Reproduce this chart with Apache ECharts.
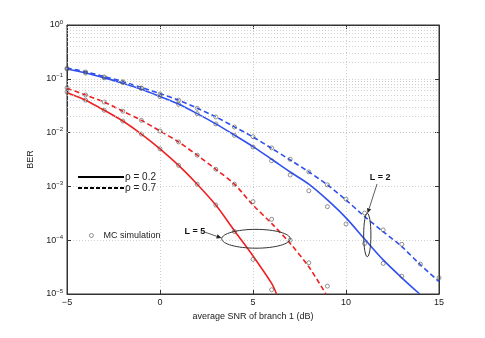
<!DOCTYPE html>
<html>
<head>
  <meta charset="utf-8">
  <title>BER</title>
  <script src="https://cdn.jsdelivr.net/npm/echarts@6/dist/echarts.min.js"></script>
</head>
<body style="margin:0">
<div id="main" style="height: 338px;width: 485px"></div>
<script type="text/javascript">
  // analytic curves (x in dB, BER)
  var blueSolidX = [-5, -4, -3, -2, -1, 0, 1, 2, 3, 4, 5, 6, 7, 8, 9, 10, 11, 12, 13, 13.96];
  var blueSolidY = [0.152, 0.128, 0.104, 0.083, 0.064, 0.047, 0.034, 0.0225, 0.0145, 0.0090, 0.0055, 0.0032, 0.00185, 1.1e-3, 5.6e-4, 2.6e-4, 1.05e-4, 4.3e-5, 2.0e-5, 1e-5];
  var blueDashX = [-5, -4, -3, -2, -1, 0, 1, 2, 3, 4, 5, 6, 7, 8, 9, 10, 11, 12, 13, 14, 15];
  var blueDashY = [0.158, 0.135, 0.110, 0.089, 0.069, 0.053, 0.040, 0.0285, 0.0196, 0.0128, 0.0083, 0.0051, 0.0031, 0.00186, 1.07e-3, 5.6e-4, 2.75e-4, 1.44e-4, 7.6e-5, 3.5e-5, 1.7e-5];
  var redSolidX = [-5, -4, -3, -2, -1, 0, 1, 2, 3, 4, 5, 6, 6.27];
  var redSolidY = [0.055, 0.040, 0.026, 0.0164, 0.0094, 0.0050, 0.00246, 1.1e-3, 4.5e-4, 1.5e-4, 5.1e-5, 1.58e-5, 1e-5];
  var redDashX = [-5, -4, -3, -2, -1, 0, 1, 2, 3, 4, 5, 6, 7, 8, 8.92];
  var redDashY = [0.0666, 0.050, 0.037, 0.025, 0.0169, 0.0107, 0.0067, 0.0038, 0.00208, 1.1e-3, 4.5e-4, 2.05e-4, 8.7e-5, 3.2e-5, 1e-5];

  // MC simulation points
  var blueSolidSimX = [-5, -4, -3, -2, -1, 0, 1, 2, 3, 4, 5, 6, 7, 8, 9, 10, 11, 12, 13];
  var blueSolidSimY = [0.152, 0.128, 0.104, 0.085, 0.066, 0.0465, 0.0336, 0.0225, 0.0145, 0.0089, 0.0054, 0.0030, 0.00163, 8.3e-4, 4.2e-4, 2.0e-4, 8.7e-5, 3.7e-5, 2.15e-5];
  var blueDashSimX = [-5, -4, -3, -2, -1, 0, 1, 2, 3, 4, 5, 6, 7, 8, 9, 10, 11, 12, 13, 14, 15];
  var blueDashSimY = [0.157, 0.134, 0.108, 0.088, 0.0675, 0.052, 0.040, 0.0283, 0.0195, 0.0127, 0.0084, 0.0052, 0.0032, 0.00186, 1.07e-3, 5.8e-4, 3.2e-4, 1.55e-4, 8.4e-5, 3.6e-5, 2.0e-5];
  var redSolidSimX = [-5, -4, -3, -2, -1, 0, 1, 2, 3, 4, 5, 6];
  var redSolidSimY = [0.057, 0.040, 0.026, 0.0164, 0.0094, 0.0050, 0.00246, 1.1e-3, 4.5e-4, 1.45e-4, 4.4e-5, 1.2e-5];
  var redDashSimX = [-5, -4, -3, -2, -1, 0, 1, 2, 3, 4, 5, 6, 7, 8, 9];
  var redDashSimY = [0.068, 0.050, 0.037, 0.025, 0.0169, 0.0107, 0.0067, 0.0038, 0.00208, 1.1e-3, 5.2e-4, 2.45e-4, 1.0e-4, 3.8e-5, 1.4e-5];

  function pairs(xs, ys) {
    return xs.map(function (x, i) { return [x, ys[i]]; });
  }

  // minor log grid values 2..9 x 10^k
  var minorGrid = [];
  for (var k = -5; k < 0; k++) {
    for (var m = 2; m <= 9; m++) minorGrid.push({ yAxis: m * Math.pow(10, k) });
  }

  var blue = '#3050f0';
  var red = '#f02020';
  var font = 'Liberation Sans';
  var txt = '#222';
  var gridLine = { color: '#c4c4c4', type: [1, 2], width: 0.8 };

  function lineSeries(name, xs, ys, color, type) {
    return {
      type: 'line', name: name, data: pairs(xs, ys), smooth: 0.3,
      symbol: 'none', lineStyle: { color: color, width: 1.6, type: type },
      silent: true, z: 3
    };
  }
  function simSeries(xs, ys) {
    return {
      type: 'scatter', name: 'sim', data: pairs(xs, ys), symbol: 'circle', symbolSize: 4,
      itemStyle: { color: 'rgba(255,255,255,0)', borderColor: '#555', borderWidth: 0.8 },
      silent: true, z: 4
    };
  }

  // annotations in data coordinates
  var ell5 = { x1: 3.32, x2: 7.0, y1: 1.59e-4, y2: 7.1e-5 };
  var ell2 = { x1: 10.95, x2: 11.34, y1: 3.16e-4, y2: 4.93e-5 };
  var arrow5 = [[2.42, 1.41e-4], [3.31, 1.1e-4]];
  var arrow2 = [[11.67, 1.11e-3], [11.16, 3.16e-4]];
  var label5 = [1.88, 1.48e-4];
  var label2 = [11.83, 1.44e-3];

  function ellipseShape(api, e) {
    var a = api.coord([e.x1, e.y1]), b = api.coord([e.x2, e.y2]);
    return {
      type: 'ellipse',
      shape: { cx: (a[0] + b[0]) / 2, cy: (a[1] + b[1]) / 2, rx: Math.abs(b[0] - a[0]) / 2, ry: Math.abs(b[1] - a[1]) / 2 },
      style: { fill: 'none', stroke: '#333', lineWidth: 1 }
    };
  }
  function arrowShapes(api, ar) {
    var p = api.coord(ar[0]), q = api.coord(ar[1]);
    var dx = q[0] - p[0], dy = q[1] - p[1], len = Math.sqrt(dx * dx + dy * dy);
    var ux = dx / len, uy = dy / len, h = 5, w = 2.2;
    var bx = q[0] - ux * h, by = q[1] - uy * h;
    return [
      { type: 'line', shape: { x1: p[0], y1: p[1], x2: bx, y2: by }, style: { stroke: '#333', lineWidth: 0.8 } },
      { type: 'polygon', shape: { points: [[q[0], q[1]], [bx - uy * w, by + ux * w], [bx + uy * w, by - ux * w]] }, style: { fill: '#222' } }
    ];
  }
  function labelShape(api, pos, s) {
    var c = api.coord(pos);
    return {
      type: 'text', x: c[0], y: c[1],
      style: { text: s, font: 'bold 9px ' + font, fill: '#111', align: 'center', verticalAlign: 'middle' }
    };
  }

  var myChart = echarts.init(document.getElementById('main'));
  var option = {
    animation: false,
    backgroundColor: '#fff',
    textStyle: { fontFamily: font },
    grid: { left: 67, right: 46, top: 25, bottom: 44, show: true, borderColor: '#333', borderWidth: 1 },
    legend: [
      {
        data: ['ρ = 0.2', 'ρ = 0.7'], orient: 'vertical', left: 72, top: 167,
        itemWidth: 46, itemHeight: 10, itemGap: 1,
        itemStyle: { opacity: 0 },
        textStyle: { fontFamily: font, fontSize: 10, color: txt, padding: [0, 0, 0, -4] }
      },
      {
        data: ['MC simulation'], left: 84, top: 226, itemWidth: 4, itemHeight: 4, itemGap: 0,
        itemStyle: { color: 'rgba(255,255,255,0)', borderColor: '#555', borderWidth: 0.8 },
        textStyle: { fontFamily: font, fontSize: 9, color: txt, padding: [0, 0, 0, 5] }
      }
    ],
    xAxis: [
      {
        type: 'value', min: -5, max: 15, interval: 5,
        name: 'average SNR of branch 1 (dB)', nameLocation: 'middle', nameGap: 12,
        nameTextStyle: { fontFamily: font, fontSize: 9, color: txt },
        axisLine: { onZero: false, lineStyle: { color: '#333' } },
        axisTick: { inside: true, length: 4, lineStyle: { color: '#333' } },
        axisLabel: { fontFamily: font, fontSize: 9, color: txt, margin: 4,
          formatter: function (v) { return v < 0 ? '\u2212' + Math.abs(v) : String(v); } },
        splitLine: { show: true, lineStyle: gridLine }
      },
      {
        type: 'value', min: -5, max: 15, interval: 5, position: 'top',
        axisLine: { show: true, onZero: false, lineStyle: { color: '#333' } },
        axisTick: { inside: true, length: 4, lineStyle: { color: '#333' } },
        axisLabel: { show: false }, splitLine: { show: false }
      }
    ],
    yAxis: [
      {
        type: 'log', logBase: 10, min: 1e-5, max: 1,
        name: 'BER', nameLocation: 'middle', nameGap: 24,
        nameTextStyle: { fontFamily: font, fontSize: 9, color: txt },
        axisLine: { show: true, onZero: false, lineStyle: { color: '#333' } },
        axisTick: { inside: true, length: 4, lineStyle: { color: '#333' } },
        axisLabel: {
          margin: 4,
          formatter: function (v) {
            var e = Math.round(Math.log10(v));
            return '{b|10}{s|' + (e < 0 ? '\u2212' + Math.abs(e) : e) + '}';
          },
          rich: {
            b: { fontFamily: font, fontSize: 9, color: txt },
            s: { fontFamily: font, fontSize: 6, color: txt, verticalAlign: 'bottom', padding: [0, 0, 6, 0] }
          }
        },
        splitLine: { show: true, lineStyle: gridLine }
      },
      {
        type: 'log', logBase: 10, min: 1e-5, max: 1, position: 'right',
        axisLine: { show: true, onZero: false, lineStyle: { color: '#333' } },
        axisTick: { inside: true, length: 4, lineStyle: { color: '#333' } },
        axisLabel: { show: false }, splitLine: { show: false }
      }
    ],
    series: [
      {
        type: 'line', name: 'grid', data: [], silent: true,
        markLine: {
          silent: true, symbol: 'none', label: { show: false },
          lineStyle: gridLine,
          data: minorGrid
        }
      },
      lineSeries('L2a', blueSolidX, blueSolidY, blue, 'solid'),
      lineSeries('L2b', blueDashX, blueDashY, blue, [5, 3]),
      lineSeries('L5a', redSolidX, redSolidY, red, 'solid'),
      lineSeries('L5b', redDashX, redDashY, red, [5, 3]),
      simSeries(blueSolidSimX, blueSolidSimY),
      simSeries(blueDashSimX, blueDashSimY),
      simSeries(redSolidSimX, redSolidSimY),
      simSeries(redDashSimX, redDashSimY),
      { type: 'line', name: 'ρ = 0.2', data: [], symbol: 'none', itemStyle: { color: '#000' }, lineStyle: { color: '#000', width: 1.6 } },
      { type: 'line', name: 'ρ = 0.7', data: [], symbol: 'none', itemStyle: { color: '#000' }, lineStyle: { color: '#000', width: 1.6, type: [4, 2] } },
      { type: 'scatter', name: 'MC simulation', data: [], symbol: 'circle',
        itemStyle: { color: 'rgba(255,255,255,0)', borderColor: '#555', borderWidth: 0.8 } },
      {
        type: 'custom', name: 'notes', data: [0], silent: true, z: 10,
        renderItem: function (params, api) {
          var kids = [ellipseShape(api, ell5), ellipseShape(api, ell2)]
            .concat(arrowShapes(api, arrow5), arrowShapes(api, arrow2),
              [labelShape(api, label5, 'L = 5'), labelShape(api, label2, 'L = 2')]);
          return { type: 'group', children: kids };
        }
      }
    ]
  };
  myChart.setOption(option);
</script>
</body>
</html>
